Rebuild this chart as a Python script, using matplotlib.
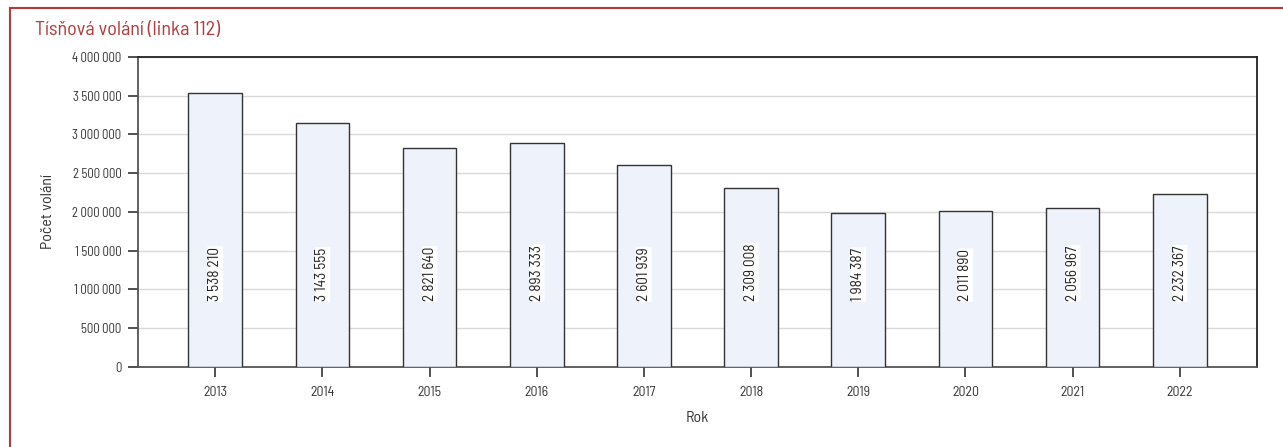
import matplotlib.pyplot as plt
from matplotlib.ticker import FuncFormatter
from matplotlib.lines import Line2D

# ----- DATA -----
years = ["2013", "2014", "2015", "2016", "2017", "2018", "2019", "2020", "2021", "2022"]
calls = [3538210, 3143555, 2821640, 2893333, 2601939, 2309008, 1984387, 2011890, 2056967, 2232367]
y_ticks = [0, 500000, 1000000, 1500000, 2000000, 2500000, 3000000, 3500000, 4000000]

title = "Tísňová volání (linka 112)"
x_label = "Rok"
y_label = "Počet volání"


def spaced(v):
    # Czech thousands separator
    return f"{int(v):,}".replace(",", " ")


plt.rcParams["font.family"] = ["Barlow Semi Condensed", "Roboto Condensed", "DejaVu Sans"]

fig = plt.figure(figsize=(12.83, 4.47), dpi=100)
ax = fig.add_axes([0.1076, 0.179, 0.8721, 0.6935])

x = list(range(len(years)))
ax.bar(x, calls, width=0.5, color="#eef2fb", edgecolor="#333333", linewidth=1.0, zorder=3)

for xi, v in zip(x, calls):
    ax.text(xi, 850000, spaced(v), rotation=90, rotation_mode="anchor",
            ha="left", va="center", fontsize=11, color="#222222", zorder=4,
            bbox=dict(boxstyle="round,pad=0.05", fc="white", ec="none"))

ax.set_xlim(-0.72, len(years) - 1 + 0.72)
ax.set_ylim(0, 4000000)
ax.set_xticks(x)
ax.set_xticklabels(years)
ax.set_yticks(y_ticks)
ax.yaxis.set_major_formatter(FuncFormatter(lambda v, p: spaced(v)))
ax.tick_params(axis="both", colors="#333333", length=7, width=1.2)
ax.tick_params(axis="y", labelsize=9.2, pad=5)
ax.tick_params(axis="x", labelsize=10, pad=7)

ax.grid(axis="y", color="#d9d9d9", linewidth=1.0, zorder=0)
ax.set_axisbelow(True)
for side in ["left", "bottom"]:
    ax.spines[side].set_color("#555555")
    ax.spines[side].set_linewidth(1.3)
for side in ["top", "right"]:
    ax.spines[side].set_color("#222222")
    ax.spines[side].set_linewidth(1.3)

ax.set_xlabel(x_label, fontsize=11.5, color="#333333", labelpad=8)
ax.set_ylabel(y_label, fontsize=11.5, color="#333333", labelpad=12)

# red frame at top and left
red = "#b33a3a"
fig.add_artist(Line2D([10 / 1283, 1], [1 - 8 / 447, 1 - 8 / 447], color=red, linewidth=1.5,
                      transform=fig.transFigure))
fig.add_artist(Line2D([10 / 1283, 10 / 1283], [0, 1 - 8 / 447], color=red, linewidth=1.5,
                      transform=fig.transFigure))
fig.text(35 / 1283, 1 - 30 / 447, title, fontsize=14.5, color=red, ha="left", va="center")

fig.savefig("out.png", dpi=100)
